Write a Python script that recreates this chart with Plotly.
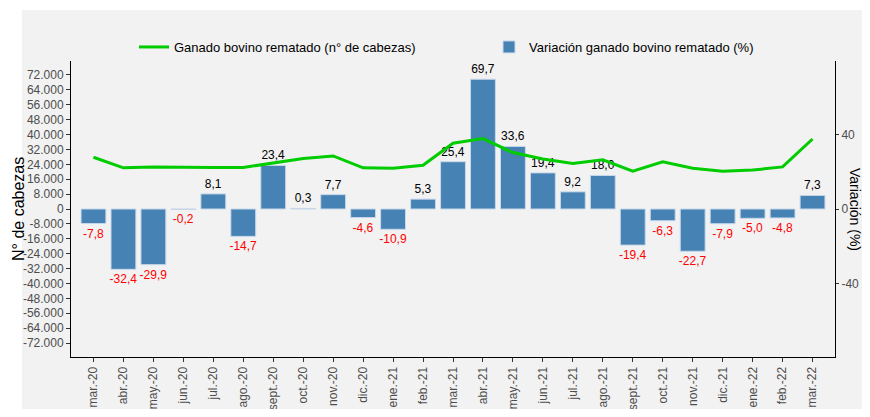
import plotly.graph_objects as go

months = ["mar.-20", "abr.-20", "may.-20", "jun.-20", "jul.-20", "ago.-20", "sept.-20", "oct.-20",
          "nov.-20", "dic.-20", "ene.-21", "feb.-21", "mar.-21", "abr.-21", "may.-21", "jun.-21",
          "jul.-21", "ago.-21", "sept.-21", "oct.-21", "nov.-21", "dic.-21", "ene.-22", "feb.-22", "mar.-22"]
variacion_pct = [-7.8, -32.4, -29.9, -0.2, 8.1, -14.7, 23.4, 0.3, 7.7, -4.6, -10.9, 5.3, 25.4,
                 69.7, 33.6, 19.4, 9.2, 18.0, -19.4, -6.3, -22.7, -7.9, -5.0, -4.8, 7.3]
cabezas = [27800, 22100, 22500, 22600, 22300, 22300, 24900, 27100, 28500, 22100, 21900, 23500, 35300,
           37800, 30300, 26900, 24400, 26400, 20300, 25400, 21900, 20300, 20900, 22600, 37600]

left_ticks = list(range(-72000, 72001, 8000))
left_ticktext = [("-" if v < 0 else "") + f"{abs(v):,}".replace(",", ".") for v in left_ticks]
right_ticks = [-40, 0, 40]
right_ticktext = ["-40", "0", "40"]

bar_text = [f"{v:.1f}".replace(".", ",") for v in variacion_pct]
bar_text_colors = ["#ff0000" if v < 0 else "#000000" for v in variacion_pct]

FONT = "Liberation Sans, Arial, sans-serif"

fig = go.Figure()
fig.add_trace(go.Bar(
    x=months, y=variacion_pct, name="Variación ganado bovino rematado (%)",
    marker=dict(color="#4682B4", line=dict(color="#c8d8ea", width=1)),
    text=bar_text, textposition="outside", cliponaxis=False, constraintext="none",
    textfont=dict(color=bar_text_colors, size=12, family=FONT),
    yaxis="y", legend="legend2", showlegend=True,
))
fig.add_trace(go.Scatter(
    x=months, y=cabezas, name="Ganado bovino rematado (n° de cabezas)",
    mode="lines", line=dict(color="#00cc00", width=3),
    yaxis="y2", legend="legend", showlegend=True,
))

# The page body keeps an 8px margin: size the figure so the page fits the window exactly
OFF = 8
W, H = 870 - 2 * OFF, 417 - 2 * OFF
PX0, PX1, PY0, PY1 = 71, 835, 61, 357  # plot area in page pixels
L = PX0 - OFF
R = W - (PX1 - OFF)
T = PY0 - OFF
B = H - (PY1 - OFF)
pw, ph = PX1 - PX0, PY1 - PY0


def px_x(p):
    return (p - PX0) / pw


def px_y(p):
    return 1 - (p - PY0) / ph


axis_common = dict(
    showline=True, linecolor="#000000", linewidth=1, ticks="outside", ticklen=4,
    tickcolor="#333333", showgrid=False, zeroline=False, automargin=False,
    tickfont=dict(size=12, color="#4d4d4d"),
)

fig.update_layout(
    width=W, height=H,
    margin=dict(l=L, r=R, t=T, b=B, autoexpand=False),
    paper_bgcolor="white", plot_bgcolor="#f2f2f2",
    font=dict(family=FONT, size=12, color="#4d4d4d"),
    showlegend=True,
    bargap=0.17,
    xaxis=dict(type="category", range=[-0.75, len(months) - 0.25], tickangle=-90, **axis_common),
    yaxis=dict(side="right", range=[-79.5, 79.5], tickvals=right_ticks, ticktext=right_ticktext,
               **{**axis_common, "ticklen": 3}),
    yaxis2=dict(side="left", overlaying="y", range=[-79500, 79500], tickvals=left_ticks,
                ticktext=left_ticktext, **axis_common),
    legend=dict(
        x=px_x(134), y=px_y(47), xanchor="left", yanchor="middle", orientation="h",
        bgcolor="rgba(0,0,0,0)", font=dict(size=13, color="#000000"),
    ),
    legend2=dict(
        x=px_x(489), y=px_y(47), xanchor="left", yanchor="middle", orientation="h",
        bgcolor="rgba(0,0,0,0)", font=dict(size=13, color="#000000"),
    ),
    shapes=[dict(
        type="rect", xref="paper", yref="paper", layer="below",
        x0=px_x(22), x1=px_x(880), y0=px_y(425), y1=px_y(10),
        fillcolor="#f2f2f2", line=dict(width=0),
    )],
    annotations=[
        dict(text="N° de cabezas", xref="paper", yref="paper", x=px_x(18), y=px_y(209),
             textangle=-90, showarrow=False, font=dict(size=16, color="#000000"),
             xanchor="center", yanchor="middle"),
        dict(text="Variación (%)", xref="paper", yref="paper", x=px_x(855), y=px_y(209),
             textangle=90, showarrow=False, font=dict(size=14, color="#000000"),
             xanchor="center", yanchor="middle"),
    ],
)

fig.write_html("out.html")
